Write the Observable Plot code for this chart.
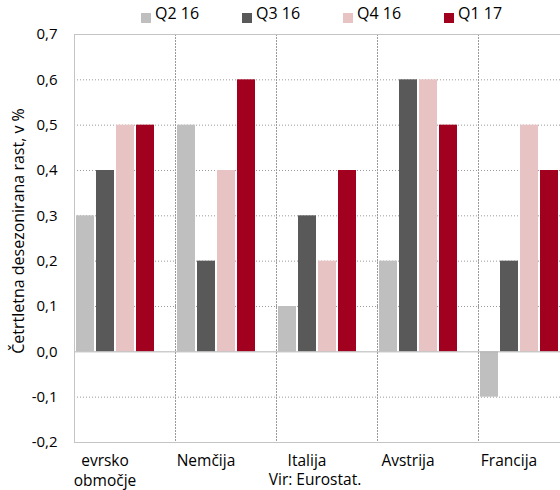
<!DOCTYPE html>
<html><head><meta charset="utf-8">
<script src="https://cdn.jsdelivr.net/npm/d3@7"></script>
<script src="https://cdn.jsdelivr.net/npm/@observablehq/plot@0.6"></script>
<style>
body{margin:0;background:#fff;font-family:"Open Sans",sans-serif;}
#wrap{position:relative;width:560px;height:490px;overflow:hidden;background:#fff;}
.leg{position:absolute;top:3px;line-height:20px;font-size:16px;color:#000;white-space:nowrap;}
.sw{position:absolute;top:13px;width:10px;height:10px;}
#cap{position:absolute;top:469px;line-height:20px;font-size:15.5px;color:#000;white-space:nowrap;transform:translateX(-50%);}
#ylab{position:absolute;left:18px;top:231px;line-height:20px;font-size:16px;color:#000;white-space:nowrap;transform:translate(-50%,-50%) rotate(-90deg);}
</style></head><body><div id="wrap"></div>
<script>
const countries = ["evrsko območje", "Nemčija", "Italija", "Avstrija", "Francija"];
const series = ["Q2 16", "Q3 16", "Q4 16", "Q1 17"];
const q2_16 = [0.3, 0.5, 0.1, 0.2, -0.1];
const q3_16 = [0.4, 0.2, 0.3, 0.6, 0.2];
const q4_16 = [0.5, 0.4, 0.2, 0.6, 0.5];
const q1_17 = [0.5, 0.6, 0.4, 0.5, 0.4];
const colors = ["#bfbfbf", "#595959", "#e8c3c3", "#a2001f"];
const yTicks = [-0.2, -0.1, 0, 0.1, 0.2, 0.3, 0.4, 0.5, 0.6, 0.7];
const gridTicks = [-0.1, 0.1, 0.2, 0.3, 0.4, 0.5, 0.6];
const yLabel = "Četrtletna desezonirana rast, v %";
const source = "Vir: Eurostat.";

const valuesBySeries = [q2_16, q3_16, q4_16, q1_17];
const table = [];
countries.forEach((c, i) => series.forEach((s, j) => table.push({country: c, series: s, value: valuesBySeries[j][i]})));

const fmt = d => d.toFixed(1).replace(".", ",");
const grid = "#9a9a9a";
const ml = 74;
const chart = Plot.plot({
  width: 560, height: 490,
  marginTop: 34, marginBottom: 48, marginLeft: ml, marginRight: 1.5,
  style: {fontFamily: "Open Sans", fontSize: "15px", color: "#000", background: "#fff"},
  fx: {domain: countries, range: [ml, 579], padding: 0, round: false, axis: null, label: null},
  x: {domain: series, range: [ml + 2, ml + 80], paddingInner: 0.1, paddingOuter: 0, round: false, axis: null},
  y: {domain: [-0.2, 0.7], axis: null},
  color: {domain: series, range: colors},
  marks: [
    Plot.ruleY(gridTicks, {stroke: grid, strokeDasharray: "1,2"}),
    Plot.frame({anchor: "left", stroke: grid, strokeDasharray: "1,2"}),
    Plot.barY(table, {fx: "country", x: "series", y: "value", fill: "series"}),
    Plot.ruleY([0], {stroke: "#b4b4b4"}),
    Plot.frame({facet: "super", stroke: "#c4c4c4"}),
    Plot.axisY(yTicks, {tickSize: 0, tickPadding: 17, tickFormat: fmt, label: null, fontSize: 15}),
    Plot.axisFx({anchor: "bottom", tickSize: 0, tickPadding: 10, dx: -20, label: null, fontSize: 15.5, lineHeight: 1.25,
      tickFormat: d => d.replace(" ", "\n")})
  ]
});
const wrap = document.getElementById("wrap");
wrap.appendChild(chart);
series.forEach((s, i) => {
  const sw = document.createElement("div");
  sw.className = "sw";
  sw.style.left = (141 + i * 101) + "px";
  sw.style.background = colors[i];
  wrap.appendChild(sw);
  const t = document.createElement("div");
  t.className = "leg";
  t.style.left = (155 + i * 101) + "px";
  t.textContent = s;
  wrap.appendChild(t);
});
const ylab = document.createElement("div");
ylab.id = "ylab";
ylab.textContent = yLabel;
wrap.appendChild(ylab);
const cap = document.createElement("div");
cap.id = "cap";
cap.style.left = "315px";
cap.textContent = source;
wrap.appendChild(cap);
</script></body></html>
